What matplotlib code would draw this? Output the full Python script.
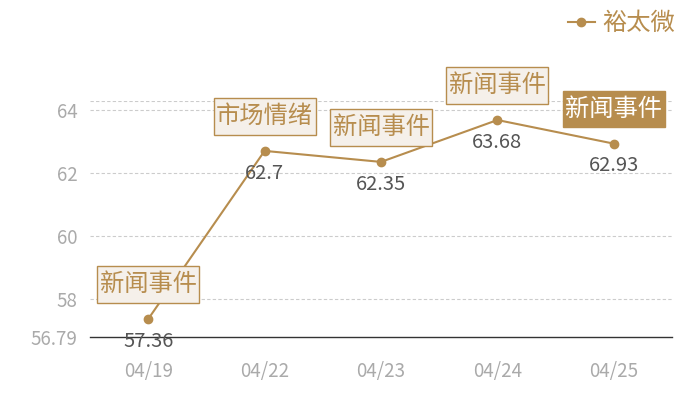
import matplotlib
matplotlib.use("Agg")
import matplotlib.pyplot as plt
from matplotlib.path import Path

plt.rcParams['font.family'] = ['Noto Sans CJK SC', 'DejaVu Sans']

dates = ["04/19", "04/22", "04/23", "04/24", "04/25"]
values = [57.36, 62.7, 62.35, 63.68, 62.93]
events = ["新闻事件", "市场情绪", "新闻事件", "新闻事件", "新闻事件"]
highlight = [False, False, False, False, True]
series_name = "裕太微"
y_ticks = [56.79, 58, 60, 62, 64]
y_min, y_max = 56.79, 64.3

GOLD = "#b78d4e"
LIGHT = "#f5f0ea"


def label_box(x0, y0, width, height, mutation_size):
    px = 0.1 * mutation_size
    py = 0.22 * mutation_size
    x0, y0 = x0 - px, y0 - py
    x1, y1 = x0 + width + 2 * px, y0 + height + 2 * py
    return Path([(x0, y0), (x1, y0), (x1, y1), (x0, y1), (x0, y0)], closed=True)


fig = plt.figure(figsize=(7, 4), dpi=100)
ax = fig.add_axes([90/700, 63/400, 582/700, 236.5/400])
x = list(range(len(dates)))

for yv in [58, 60, 62, 64, y_max]:
    ax.axhline(yv, color="#cccccc", lw=0.8, ls=(0, (3, 2)), zorder=0)

ax.plot(x, values, color=GOLD, lw=1.5, marker="o", ms=6, label=series_name, zorder=3)

for xi, v, ev, hl in zip(x, values, events, highlight):
    ax.annotate(f"{v:g}", (xi, v), xytext=(0, -16), textcoords="offset points",
                ha="center", va="center", fontsize=14.5, color="#555555", zorder=4)
    if hl:
        bb = dict(boxstyle=label_box, fc=GOLD, ec=GOLD, lw=1)
        tc = "white"
    else:
        bb = dict(boxstyle=label_box, fc=LIGHT, ec=GOLD, lw=1)
        tc = GOLD
    ax.annotate(ev, (xi, v), xytext=(0, 25), textcoords="offset points",
                ha="center", va="center", fontsize=17.5, color=tc, bbox=bb, zorder=5)

ax.set_xlim(-0.5, len(dates) - 0.5)
ax.set_ylim(y_min, y_max)
ax.set_xticks(x)
ax.set_xticklabels(dates)
ax.set_yticks(y_ticks)
ax.set_yticklabels([f"{t:g}" for t in y_ticks])
ax.tick_params(axis="both", length=0, labelsize=13.5, colors="#aaaaaa")
ax.tick_params(axis="x", pad=17)
ax.tick_params(axis="y", pad=9)
for s in ["top", "right", "left"]:
    ax.spines[s].set_visible(False)
ax.spines["bottom"].set_color("#333333")
ax.spines["bottom"].set_linewidth(1)

leg = ax.legend(loc="upper right", bbox_to_anchor=(1.042, 1.475), frameon=False,
                fontsize=17.5, handlelength=1.1, handletextpad=0.3)
for t in leg.get_texts():
    t.set_color(GOLD)

fig.savefig("out.png", dpi=100)
